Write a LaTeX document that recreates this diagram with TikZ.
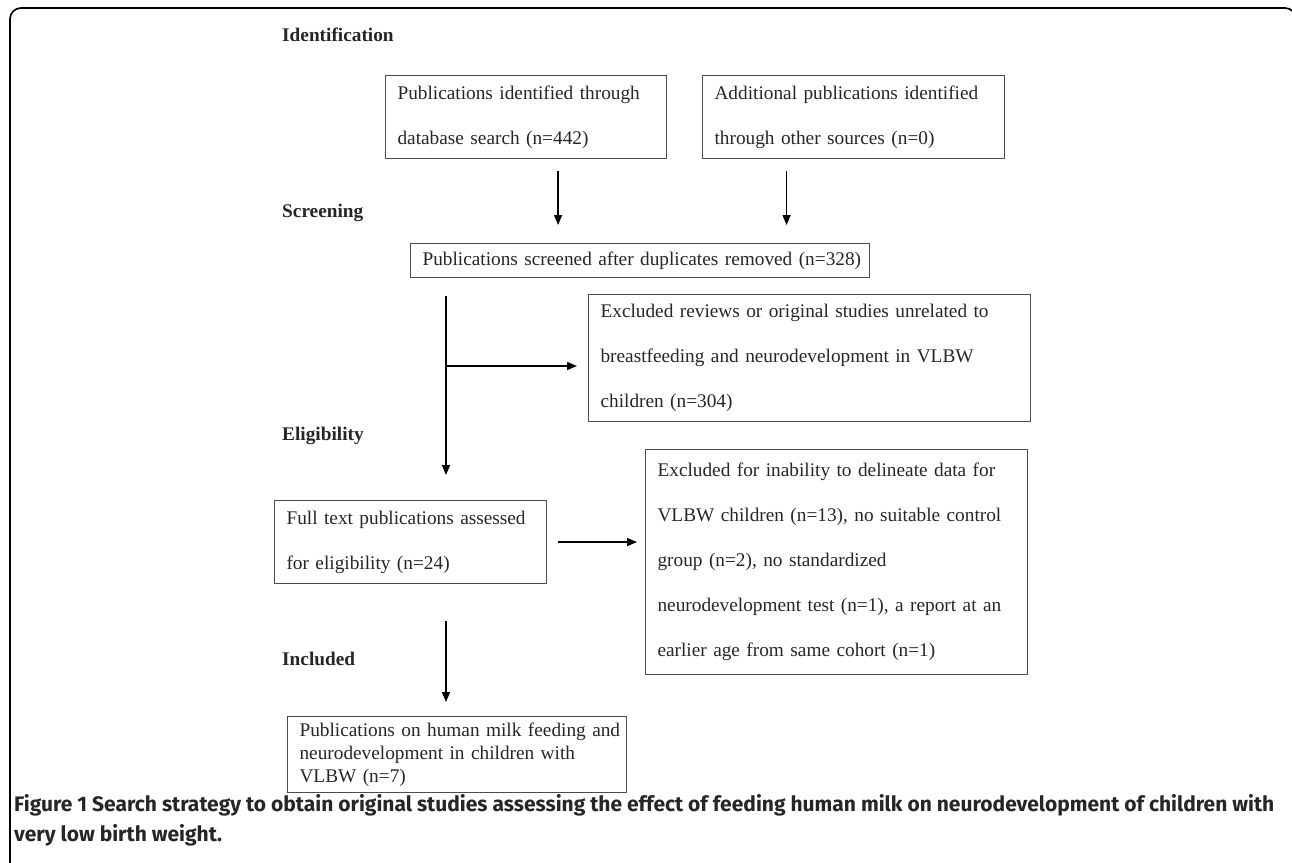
\documentclass[tikz,border=0pt]{standalone}
\usepackage{fontspec}
\setmainfont{Liberation Serif}
\newfontfamily\capfont{Fira Sans}
\usetikzlibrary{arrows.meta}

\begin{document}
\begin{tikzpicture}[x=1pt,y=-1pt,
  box/.style={draw=black!70,line width=1.1pt,anchor=north west,inner xsep=12pt,inner ysep=0pt,
    align=left,text=black!85,font=\fontsize{19.3}{45}\selectfont},
  stage/.style={anchor=west,inner sep=0pt,text=black!85,font=\fontsize{19.3}{23}\selectfont\bfseries},
  arr/.style={-{Triangle[length=10pt,width=8pt]},line width=1.4pt}]
 \clip (0,0) rectangle (1292,862);
 % outer frame
 \draw[line width=1.7pt,rounded corners=11pt] (10,880)--(10,8)--(1296,8)--(1296,40);
 % stages
 \node[stage] (ident) at (282,35) {Identification};
 \node[stage] (screen) at (282,213) {Screening};
 \node[stage] (elig) at (282,436) {Eligibility};
 \node[stage] (incl) at (282,659) {Included};
 % boxes
 \node[box,text width=257pt,minimum height=83pt] (b1) at (385,75)
   {Publications identified through\\database search (n=442)};
 \node[box,text width=278pt,minimum height=83pt] (b2) at (702,75)
   {Additional publications identified\\through other sources (n=0)};
 \node[box,text width=435pt,minimum height=34pt] (b3) at (410,243)
   {\mbox{Publications screened after duplicates removed (n=328)}};
 \node[box,text width=418pt,minimum height=127pt] (b4) at (588,294)
   {\mbox{Excluded reviews or original studies unrelated to}\\\mbox{breastfeeding and neurodevelopment in VLBW}\\children (n=304)};
 \node[box,text width=248pt,minimum height=83pt] (b5) at (274,500)
   {\mbox{Full text publications assessed}\\for eligibility (n=24)};
 \node[box,text width=358pt,minimum height=225pt] (b6) at (645,449)
   {\mbox{Excluded for inability to delineate data for}\\\mbox{VLBW children (n=13), no suitable control}\\group (n=2), no standardized\\\mbox{neurodevelopment test (n=1), a report at an}\\earlier age from same cohort (n=1)};
 \node[box,text width=315pt,minimum height=76pt,font=\fontsize{19.3}{23}\selectfont] (b7) at (287,716)
   {\mbox{Publications on human milk feeding and}\\neurodevelopment in children with\\VLBW (n=7)};
 % connectors
 \coordinate (split) at (446,366);
 \draw[arr,shorten <=12pt,shorten >=18pt] ([xshift=32pt]b1.south) -- ([xshift=32pt]b1.south |- b3.north);
 \draw[arr,shorten <=12pt,shorten >=18pt] ([xshift=-67pt]b2.south) -- ([xshift=-67pt]b2.south |- b3.north);
 \draw[arr,shorten <=18pt,shorten >=25pt] (b3.south -| split) -- (b5.north -| split);
 \draw[arr,shorten >=11pt] (split) -- (split -| b4.west);
 \draw[arr,shorten <=11pt,shorten >=8pt] (b5.east) -- (b5.east -| b6.west);
 \draw[arr,shorten <=37pt,shorten >=14pt] (b5.south -| split) -- (b7.north -| split);
 % caption
 \node[anchor=north west,inner sep=0pt,align=left,text=black!85,font=\capfont\bfseries\fontsize{21}{30}\selectfont] (cap) at (14,794)
   {Figure 1 Search strategy to obtain original studies assessing the effect of feeding human milk on neurodevelopment of children with\\very low birth weight.};
\end{tikzpicture}
\end{document}
